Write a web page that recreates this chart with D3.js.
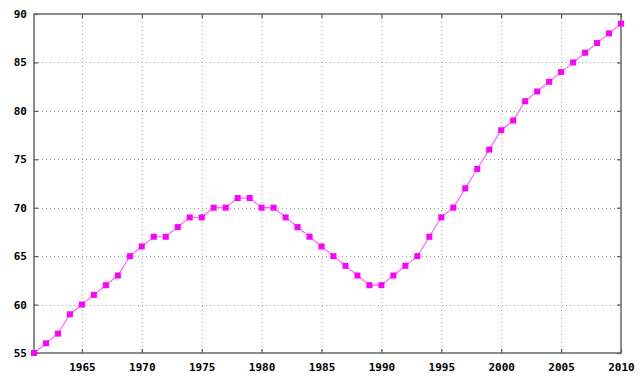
<!DOCTYPE html>
<html><head><meta charset="utf-8">
<script src="https://cdn.jsdelivr.net/npm/d3@7"></script>
<style>body{margin:0;background:#fff}svg{display:block}</style>
</head><body>
<svg id="c" width="640" height="377"></svg>
<script>
const years = d3.range(1961, 2011);
const values = [55,56,57,59,60,61,62,63,65,66,67,67,68,69,69,70,70,71,71,70,
                70,69,68,67,66,65,64,63,62,62,63,64,65,67,69,70,72,74,76,78,
                79,81,82,83,84,85,86,87,88,89];
const xTicks = [1965,1970,1975,1980,1985,1990,1995,2000,2005,2010];
const yTicks = [55,60,65,70,75,80,85,90];

const L=34, R=621, T=14, B=353;
const svg = d3.select("#c");
const x = d3.scaleLinear().domain([1961,2010]).range([L,R]);
const y = d3.scaleLinear().domain([55,90]).range([B,T]);
const font = "'DejaVu Sans Mono', monospace";

// grid
svg.append("g").selectAll("line").data(xTicks.filter(d=>d<2010)).join("line")
  .attr("x1",d=>x(d)+0.5).attr("x2",d=>x(d)+0.5).attr("y1",T).attr("y2",B)
  .attr("stroke","#a0a0a0").attr("stroke-width",1).attr("stroke-dasharray","1,3");
svg.append("g").selectAll("line").data(yTicks.filter(d=>d>55&&d<90)).join("line")
  .attr("y1",d=>Math.round(y(d))+0.5).attr("y2",d=>Math.round(y(d))+0.5).attr("x1",L).attr("x2",R)
  .attr("stroke","#a0a0a0").attr("stroke-width",1).attr("stroke-dasharray","1,3");

// axes via d3
const ax = svg.append("g").attr("transform",`translate(0,${B})`)
  .call(d3.axisBottom(x).tickValues(xTicks).tickFormat(d3.format("d")).tickSize(-4).tickPadding(10));
const axT = svg.append("g").attr("transform",`translate(0,${T})`)
  .call(d3.axisTop(x).tickValues(xTicks).tickFormat("").tickSize(-4));
const ay = svg.append("g").attr("transform",`translate(${L},0)`)
  .call(d3.axisLeft(y).tickValues(yTicks).tickSize(-4).tickPadding(7));
const ayR = svg.append("g").attr("transform",`translate(${R},0)`)
  .call(d3.axisRight(y).tickValues(yTicks).tickFormat("").tickSize(-4));
[ax,axT,ay,ayR].forEach(g=>{
  g.select(".domain").remove();
  g.selectAll(".tick line").attr("stroke","#555").attr("stroke-width",1.2);
  g.selectAll("text").attr("font-family",font).attr("font-weight","bold")
   .attr("font-size","11px").attr("fill","#000");
});

// border
svg.append("rect").attr("x",L).attr("y",T).attr("width",R-L).attr("height",B-T)
  .attr("fill","none").attr("stroke","#666").attr("stroke-width",1.5);

// line
svg.append("path").datum(values)
  .attr("d",d3.line().x((d,i)=>x(years[i])).y(d=>y(d)))
  .attr("fill","none").attr("stroke","#ff66ff").attr("stroke-width",1.2);
svg.append("g").selectAll("rect").data(values).join("rect")
  .attr("x",(d,i)=>x(years[i])-3).attr("y",d=>y(d)-3)
  .attr("width",6).attr("height",6).attr("fill","#ff00ff");
</script>
</body></html>
